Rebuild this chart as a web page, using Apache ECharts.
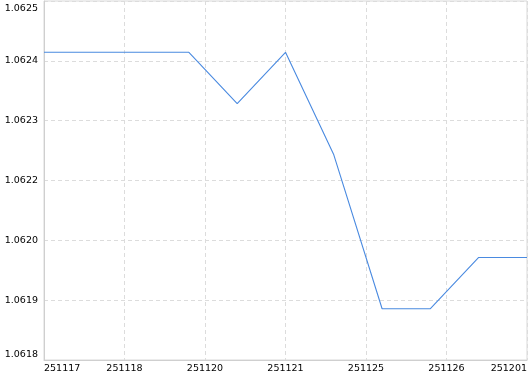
<!DOCTYPE html>
<html>
<head>
<meta charset="utf-8">
<script src="https://cdn.jsdelivr.net/npm/echarts@6/dist/echarts.min.js"></script>
<style>html,body{margin:0;padding:0;background:#fff}#c{width:530px;height:374px}</style>
</head>
<body>
<div id="c"></div>
<script>
// data
const values = [1.0624, 1.0624, 1.0624, 1.0624, 1.0623, 1.0624, 1.0622, 1.0619, 1.0619, 1.0620, 1.0620];
const xTickLabels = ['251117', '251118', '251120', '251121', '251125', '251126', '251201'];
const yTickLabels = ['1.0618', '1.0619', '1.0620', '1.0622', '1.0623', '1.0624', '1.0625'];
const yMin = 1.0618, yMax = 1.0625;

const nX = values.length - 1;
const xInterval = nX / (xTickLabels.length - 1);
const ySpan = 7; // in units of 1e-4
const yInterval = ySpan / (yTickLabels.length - 1);

const seriesData = values.map((v, i) => [i, (v - yMin) * 1e4]);

const chart = echarts.init(document.getElementById('c'), null, {renderer: 'canvas'});
const font = 'DejaVu Sans';
chart.setOption({
  animation: false,
  grid: {left: 44, top: 1, width: 484, height: 360, show: true, borderColor: '#d8d8d8', borderWidth: 1, backgroundColor: 'transparent'},
  xAxis: {
    type: 'value', min: 0, max: nX, interval: xInterval,
    axisLine: {show: true, lineStyle: {color: '#cfcfcf'}},
    axisTick: {show: false},
    splitLine: {show: true, lineStyle: {color: '#dcdcdc', type: [4, 3]}},
    axisLabel: {
      color: '#000', fontFamily: font, fontSize: 9.5, margin: 4,
      formatter: v => xTickLabels[Math.round(v / xInterval)] || '',
      alignMinLabel: 'left', alignMaxLabel: 'right'
    }
  },
  yAxis: {
    type: 'value', min: 0, max: ySpan, interval: yInterval,
    axisLine: {show: true, lineStyle: {color: '#cfcfcf'}},
    axisTick: {show: false},
    splitLine: {show: true, lineStyle: {color: '#dcdcdc', type: [4, 3]}},
    axisLabel: {
      color: '#000', fontFamily: font, fontSize: 9.5, margin: 6,
      padding: [3, 0, 0, 0],
      formatter: v => yTickLabels[Math.round(v / yInterval)] || '',
      verticalAlignMinLabel: 'bottom', verticalAlignMaxLabel: 'top'
    }
  },
  series: [{
    type: 'line', data: seriesData, symbol: 'none',
    lineStyle: {color: '#4a8ae0', width: 1.1}
  }]
});
</script>
</body>
</html>
